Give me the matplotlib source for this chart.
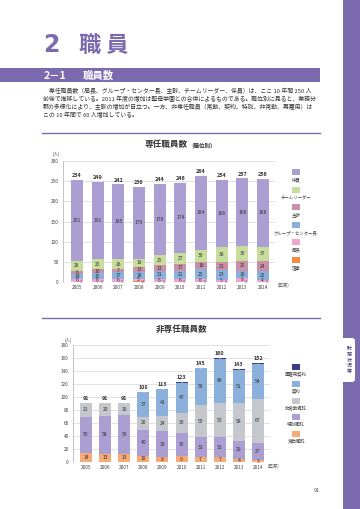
import matplotlib
matplotlib.use("Agg")
import matplotlib.pyplot as plt
from matplotlib.patches import Rectangle, FancyBboxPatch
import numpy as np

plt.rcParams['font.family'] = ['Noto Sans CJK JP', 'DejaVu Sans']

W, H = 360, 509
years = ['2005', '2006', '2007', '2008', '2009', '2010', '2011', '2012', '2013', '2014']

# ---- Chart 1: 専任職員数（職位別）----
riji = [1, 1, 1, 2, 1, 1, 1, 1, 1, 1]           # 理事
kyokucho = [6, 6, 6, 5, 6, 6, 6, 5, 8, 4]       # 局長
group_center = [14, 15, 17, 18, 21, 21, 25, 23, 19, 22]  # グループ・センター長
shukan = [6, 10, 7, 13, 13, 17, 18, 21, 25, 24]  # 主幹
team_leader = [26, 25, 26, 19, 25, 27, 30, 38, 36, 37]  # チームリーダー
kakariin = [201, 192, 185, 179, 178, 174, 184, 166, 168, 168]  # 係員
fulltime_totals = [254, 249, 242, 236, 244, 246, 264, 254, 257, 256]

# ---- Chart 2: 非専任職員数 ----
jokin = [14, 13, 13, 10, 8, 9, 7, 7, 4, 3]        # 常勤嘱託
tokubetsu = [56, 58, 59, 40, 39, 36, 31, 31, 29, 27]  # 特別嘱託
hijokin = [21, 20, 19, 20, 24, 30, 50, 53, 58, 67]    # 非常勤嘱託
keiyaku = [0, 0, 0, 37, 41, 47, 56, 68, 51, 54]       # 契約
saikoyo = [0, 0, 0, 1, 1, 1, 1, 1, 1, 1]              # 再雇用契約
parttime_totals = [91, 91, 91, 108, 113, 123, 145, 160, 143, 152]

PURPLE = '#7b6aad'
C_RIJI = '#f08a4b'
C_KYOKU = '#f2a6cf'
C_GC = '#8bb0dc'
C_SHUKAN = '#c990a8'
C_TL = '#c8dd9c'
C_KAKARI = '#ab9ed2'
C_JOKIN = '#f6ab76'
C_TOKU = '#ab9ed2'
C_HIJO = '#c4c8cd'
C_KEI = '#8bb0dc'
C_SAI = '#3d3a8a'
TXT = '#333333'

fig = plt.figure(figsize=(W / 100, H / 100), dpi=100)
fig.patch.set_facecolor('white')


def rect(x0, y0, x1, y1):
    return [x0 / W, 1 - y1 / H, (x1 - x0) / W, (y1 - y0) / H]


# page overlay axes in pixel coords
pg = fig.add_axes([0, 0, 1, 1], zorder=0)
pg.set_xlim(0, W)
pg.set_ylim(H, 0)
pg.axis('off')

# sidebar
pg.add_patch(Rectangle((343, 0), 17, H, color=PURPLE, lw=0))
pg.add_patch(FancyBboxPatch((340, 338), 15, 44, boxstyle='round,pad=0,rounding_size=3',
                            fc='white', ec='none'))
pg.text(349, 360, '\n'.join('財務状況等'), fontsize=3.6, color='#3a2f6b', ha='center',
        va='center', linespacing=1.15)

# title
pg.text(43, 45, '2', fontsize=17, color=PURPLE, fontweight='bold', ha='left', va='center',
        family=['DejaVu Sans'])
pg.text(79, 45, '職 員', fontsize=16, color=PURPLE, fontweight='bold', ha='left', va='center')

# header band
pg.add_patch(Rectangle((0, 68), 320, 14, color=PURPLE, lw=0))
pg.text(44, 75.5, '2－1', fontsize=7.5, color='white', fontweight='bold', ha='left', va='center')
pg.text(83, 75.5, '職員数', fontsize=7.5, color='white', fontweight='bold', ha='left', va='center')

# paragraph
lines = [
    '　専任職員数（局長、グループ・センター長、主幹、チームリーダー、係員）は、ここ 10 年間 250 人',
    '前後で推移している。2011 年度の増加は聖母学園との合併によるものである。職位別に見ると、業務分',
    '野の多様化により、主幹の増加が目立つ。一方、非専任職員（常勤、契約、特別、非常勤、再雇用）は',
    'この 10 年間で 60 人増加している。',
]
for i, ln in enumerate(lines):
    pg.text(43, 91 + i * 8, ln, fontsize=4.25, color=TXT, ha='left', va='center')

pg.plot([42, 320], [133, 133], color=PURPLE, lw=1.0)
pg.plot([42, 320], [318, 318], color=PURPLE, lw=1.0)

# chart titles
pg.text(145, 145, '専任職員数', fontsize=6.2, color=TXT, fontweight='bold', ha='left', va='center')
pg.text(188, 145.5, '（職位別）', fontsize=4, color=TXT, fontweight='bold', ha='left', va='center')
pg.text(182, 329, '非専任職員数', fontsize=6.2, color=TXT, fontweight='bold', ha='center', va='center')

pg.text(317, 491, '91', fontsize=4, color='#555555', ha='center', va='center')


def style_axes(ax, ymax, step):
    ax.set_ylim(0, ymax)
    ax.set_yticks(np.arange(0, ymax + 1, step))
    ax.yaxis.grid(True, color='#dddddd', lw=0.6)
    ax.set_axisbelow(True)
    for s in ['top', 'right', 'bottom']:
        ax.spines[s].set_visible(False)
    ax.spines['left'].set_color('#bbbbbb')
    ax.spines['left'].set_linewidth(0.6)
    ax.tick_params(axis='y', labelsize=3.4, length=0, pad=3, colors='#444444')
    ax.tick_params(axis='x', labelsize=3.4, length=0, pad=2, colors='#444444')
    ax.set_facecolor('none')


# ---------------- Chart 1 ----------------
ax1 = fig.add_axes(rect(63, 161, 275, 282))
x = np.arange(len(years))
bw = 0.58
series1 = [(riji, C_RIJI), (kyokucho, C_KYOKU), (group_center, C_GC),
           (shukan, C_SHUKAN), (team_leader, C_TL), (kakariin, C_KAKARI)]
bottom = np.zeros(len(years))
for vals, col in series1:
    v = np.array(vals, dtype=float)
    ax1.bar(x, v, bw, bottom=bottom, color=col, edgecolor='none')
    bottom += v
style_axes(ax1, 300, 50)
ax1.set_xlim(-0.68, 9.58)
ax1.set_xticks(x)
ax1.set_xticklabels(years)

b = np.zeros(len(years))
for k, (vals, col) in enumerate(series1):
    v = np.array(vals, dtype=float)
    for i in range(len(years)):
        c = b[i] + v[i] / 2
        if k == 0:
            ax1.text(x[i] + 0.13, b[i] + 1, str(vals[i]), fontsize=2.4, color=TXT,
                     ha='left', va='center')
        elif k == 1:
            ax1.text(x[i] - 0.02, c + 0.5, str(vals[i]), fontsize=3.5, color=TXT,
                     ha='center', va='center')
        else:
            ax1.text(x[i], c, str(vals[i]), fontsize=3.6, color=TXT, ha='center', va='center')
    b += v
for i, t in enumerate(fulltime_totals):
    ax1.text(x[i], t + 4, str(t), fontsize=3.9, color=TXT, ha='center', va='bottom',
             fontweight='bold')
pg.text(56, 154, '(人)', fontsize=3.2, color='#555555', ha='center', va='center')
pg.text(278, 285.5, '(年度)', fontsize=3.2, color='#555555', ha='left', va='center')

legend1 = [('係員', C_KAKARI), ('チームリーダー', C_TL), ('主幹', C_SHUKAN),
           ('グループ・センター長', C_GC), ('局長', C_KYOKU), ('理事', C_RIJI)]
for j, (lab, col) in enumerate(legend1):
    yy = 172 + j * 17.5
    pg.add_patch(Rectangle((292, yy - 3), 8, 6, color=col, lw=0))
    pg.text(296, yy + 8, lab, fontsize=3.2, color='#444444', ha='center', va='center')

# ---------------- Chart 2 ----------------
ax2 = fig.add_axes(rect(73, 345, 270, 462))
bw2 = 0.63
series2 = [(jokin, C_JOKIN), (tokubetsu, C_TOKU), (hijokin, C_HIJO),
           (keiyaku, C_KEI), (saikoyo, C_SAI)]
bottom = np.zeros(len(years))
for vals, col in series2:
    v = np.array(vals, dtype=float)
    ax2.bar(x, v, bw2, bottom=bottom, color=col, edgecolor='none')
    bottom += v
style_axes(ax2, 180, 20)
ax2.set_xlim(-0.68, 9.63)
ax2.set_xticks(x)
ax2.set_xticklabels(years)

b = np.zeros(len(years))
for k, (vals, col) in enumerate(series2):
    v = np.array(vals, dtype=float)
    for i in range(len(years)):
        if vals[i] == 0:
            continue
        c = b[i] + v[i] / 2
        if k == 4:
            ax2.text(x[i], c, str(vals[i]), fontsize=2.4, color='white', ha='center',
                     va='center')
        else:
            ax2.text(x[i], c, str(vals[i]), fontsize=3.6, color=TXT, ha='center', va='center')
    b += v
for i, t in enumerate(parttime_totals):
    ax2.text(x[i], t + 3, str(t), fontsize=3.9, color=TXT, ha='center', va='bottom',
             fontweight='bold')
pg.text(68, 340, '(人)', fontsize=3.2, color='#555555', ha='center', va='center')
pg.text(268, 466, '(年度)', fontsize=3.2, color='#555555', ha='left', va='center')

legend2 = [('再雇用契約', C_SAI), ('契約', C_KEI), ('非常勤嘱託', C_HIJO),
           ('特別嘱託', C_TOKU), ('常勤嘱託', C_JOKIN)]
for j, (lab, col) in enumerate(legend2):
    yy = 367 + j * 16.8
    pg.add_patch(Rectangle((292, yy - 3), 8, 6, color=col, lw=0))
    pg.text(296, yy + 7, lab, fontsize=3.2, color='#444444', ha='center', va='center')

fig.savefig('out.png', dpi=100, facecolor='white')
